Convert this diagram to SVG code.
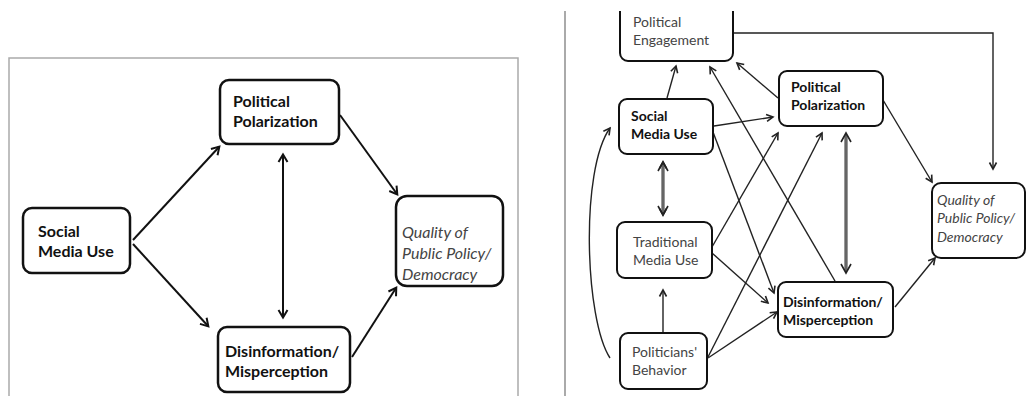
<svg xmlns="http://www.w3.org/2000/svg" width="1035" height="396" viewBox="0 0 1035 396">
<defs>
<style>
.box{fill:#fff;stroke:#111;stroke-width:2.5}
.boxr{fill:#fff;stroke:#111;stroke-width:2}
.t{font-family:Lato,"Liberation Sans",sans-serif;fill:#111}
.b{font-weight:bold}
.i{font-style:italic;fill:#444}
.g{fill:#444}
.L{font-size:16px}
.R{font-size:14px}
.c{fill:none;stroke:#111;stroke-width:2}
.cr{fill:none;stroke:#222;stroke-width:1.4}
</style>
<marker id="a" markerWidth="12" markerHeight="12" refX="9" refY="6" orient="auto-start-reverse" markerUnits="userSpaceOnUse">
<path d="M2,1.5 L9.5,6 L2,10.5" fill="none" stroke="#111" stroke-width="2"/>
</marker>
<marker id="ar" markerWidth="10" markerHeight="10" refX="8" refY="5" orient="auto-start-reverse" markerUnits="userSpaceOnUse">
<path d="M1.5,1.5 L8,5 L1.5,8.5" fill="none" stroke="#222" stroke-width="1.6"/>
</marker>
<clipPath id="clipTop"><rect x="566" y="11" width="469" height="385"/></clipPath>
</defs>
<rect width="1035" height="396" fill="#fff"/>

<g id="frames">
<path d="M9,400 V58 H518 V400" fill="none" stroke="#aaa" stroke-width="1.5"/>
<line x1="565" y1="11" x2="565" y2="396" stroke="#aaa" stroke-width="2"/>
</g>

<g id="connectors">
<line class="c" x1="133" y1="240" x2="219" y2="147" marker-end="url(#a)"/>
<line class="c" x1="133" y1="244" x2="208" y2="326" marker-end="url(#a)"/>
<line class="c" x1="340" y1="115" x2="397" y2="194" marker-end="url(#a)"/>
<line class="c" x1="352" y1="357" x2="396" y2="288" marker-end="url(#a)"/>
<line class="c" x1="283" y1="155" x2="283" y2="317" marker-start="url(#a)" marker-end="url(#a)"/>

<path class="cr" d="M733,33 H993 V169" marker-end="url(#ar)"/>
<line class="cr" x1="667" y1="98" x2="676" y2="66" marker-end="url(#ar)"/>
<line class="cr" x1="835" y1="281" x2="710" y2="67" marker-end="url(#ar)"/>
<line class="cr" x1="778" y1="98" x2="737" y2="63" marker-end="url(#ar)"/>
<line class="cr" x1="714" y1="126" x2="773" y2="117" marker-end="url(#ar)"/>
<line class="cr" x1="713" y1="132" x2="774" y2="293" marker-end="url(#ar)"/>
<line class="cr" x1="712" y1="247" x2="778" y2="133" marker-end="url(#ar)"/>
<line class="cr" x1="708" y1="357" x2="822" y2="133" marker-end="url(#ar)"/>
<line class="cr" x1="712" y1="253" x2="768" y2="303" marker-end="url(#ar)"/>
<line class="cr" x1="708" y1="358" x2="777" y2="312" marker-end="url(#ar)"/>
<line class="cr" x1="883" y1="100" x2="932" y2="182" marker-end="url(#ar)"/>
<line class="cr" x1="895" y1="307" x2="935" y2="258" marker-end="url(#ar)"/>
<line class="cr" x1="663" y1="333" x2="663" y2="290" marker-end="url(#ar)"/>
<g>
<line x1="663" y1="163" x2="663" y2="214" stroke="#333" stroke-width="3"/>
<line x1="663" y1="163" x2="663" y2="214" stroke="#999" stroke-width="1"/>
<line x1="663" y1="162" x2="663" y2="215" stroke="none" marker-start="url(#ar)" marker-end="url(#ar)"/>
<path d="M658,171 L663,162 L668,171 M658,206 L663,215 L668,206" fill="none" stroke="#222" stroke-width="1.6"/>
</g>
<g>
<line x1="846" y1="135" x2="846" y2="271" stroke="#333" stroke-width="3"/>
<line x1="846" y1="135" x2="846" y2="271" stroke="#999" stroke-width="1"/>
<path d="M841,142 L846,133 L851,142 M841,264 L846,273 L851,264" fill="none" stroke="#222" stroke-width="1.6"/>
</g>
<path class="cr" d="M610,358 C585,320 580,170 610,128" marker-end="url(#ar)"/>
</g>

<g id="L_polarization">
<rect class="box" x="220" y="80" width="119" height="64" rx="9"/>
<text class="t b L" x="233" y="107">Political</text>
<text class="t b L" x="233" y="127">Polarization</text>
</g>
<g id="L_social">
<rect class="box" x="23" y="208" width="107" height="65" rx="9"/>
<text class="t b L" x="38" y="237">Social</text>
<text class="t b L" x="38" y="257">Media Use</text>
</g>
<g id="L_quality">
<rect class="box" x="396" y="196" width="107" height="90" rx="11"/>
<text class="t i L" x="402" y="238">Quality of</text>
<text class="t i L" x="402" y="259">Public Policy/</text>
<text class="t i L" x="402" y="280">Democracy</text>
</g>
<g id="L_disinfo">
<rect class="box" x="218" y="327" width="132" height="65" rx="9"/>
<text class="t b L" x="225" y="357">Disinformation/</text>
<text class="t b L" x="225" y="377">Misperception</text>
</g>

<g id="R_engagement" clip-path="url(#clipTop)">
<rect class="boxr" x="620" y="2" width="113" height="59" rx="8"/>
<text class="t g R" x="633" y="27">Political</text>
<text class="t g R" x="633" y="45">Engagement</text>
</g>
<g id="R_polarization">
<rect class="boxr" x="779" y="71" width="104" height="55" rx="8"/>
<text class="t b R" x="791" y="92">Political</text>
<text class="t b R" x="791" y="110">Polarization</text>
</g>
<g id="R_social">
<rect class="boxr" x="619" y="99" width="94" height="55" rx="8"/>
<text class="t b R" x="631" y="121">Social</text>
<text class="t b R" x="631" y="139">Media Use</text>
</g>
<g id="R_quality">
<rect class="boxr" x="932" y="183" width="93" height="75" rx="9"/>
<text class="t i R" x="937" y="205">Quality of</text>
<text class="t i R" x="937" y="223">Public Policy/</text>
<text class="t i R" x="937" y="242">Democracy</text>
</g>
<g id="R_traditional">
<rect class="boxr" x="617" y="222" width="95" height="56" rx="8"/>
<text class="t g R" x="633" y="247">Traditional</text>
<text class="t g R" x="633" y="265">Media Use</text>
</g>
<g id="R_disinfo">
<rect class="boxr" x="778" y="282" width="115" height="55" rx="8"/>
<text class="t b R" x="783" y="307">Disinformation/</text>
<text class="t b R" x="783" y="325">Misperception</text>
</g>
<g id="R_politicians">
<rect class="boxr" x="620" y="333" width="87" height="56" rx="8"/>
<text class="t g R" x="632" y="357">Politicians'</text>
<text class="t g R" x="632" y="375">Behavior</text>
</g>
</svg>
